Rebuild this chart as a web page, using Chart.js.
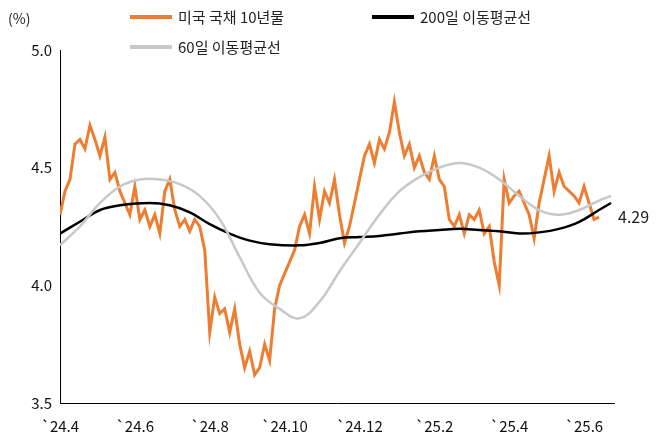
<!DOCTYPE html>
<html><head><meta charset="utf-8">
<script src="https://cdn.jsdelivr.net/npm/chart.js@4/dist/chart.umd.min.js"></script>
<style>
body{margin:0;background:#fff;font-family:"Noto Sans CJK KR","Noto Sans",sans-serif;}
#wrap{position:relative;width:662px;height:446px;}
.lg{position:absolute;font-size:15px;color:#222;display:flex;align-items:center;white-space:nowrap}
.lg i{display:inline-block;width:42px;height:4px;margin-right:6px}
#unit{position:absolute;left:8px;top:8px;font-size:14px;color:#222}
#last{position:absolute;left:618px;top:204px;font-size:16px;color:#222}
</style></head><body>
<div id="wrap">
<canvas id="c" width="662" height="446"></canvas>
<div id="unit">(%)</div>
<div class="lg" style="left:130px;top:6px"><i style="background:#ED7D31"></i>미국 국채 10년물</div>
<div class="lg" style="left:372px;top:6px"><i style="background:#000"></i>200일 이동평균선</div>
<div class="lg" style="left:130px;top:36px"><i style="background:#c8c8c8"></i>60일 이동평균선</div>
<div id="last">4.29</div>
</div>
<script>
const tickLabels=["`24.4","`24.6","`24.8","`24.10","`24.12","`25.2","`25.4","`25.6"];
const yieldStep=2/15; // months between readings
const yield10y=[4.30,4.40,4.45,4.60,4.62,4.58,4.68,4.62,4.55,4.63,4.45,4.48,4.40,4.35,4.30,4.42,4.28,4.32,4.25,4.30,4.22,4.40,4.45,4.32,4.25,4.28,4.23,4.28,4.25,4.15,3.80,3.95,3.88,3.90,3.80,3.90,3.75,3.65,3.72,3.62,3.65,3.75,3.68,3.90,4.00,4.05,4.10,4.15,4.25,4.30,4.22,4.42,4.28,4.40,4.35,4.45,4.30,4.18,4.25,4.35,4.45,4.55,4.60,4.52,4.62,4.58,4.65,4.78,4.65,4.55,4.60,4.50,4.55,4.48,4.45,4.55,4.45,4.42,4.28,4.25,4.30,4.22,4.30,4.28,4.32,4.22,4.25,4.10,4.00,4.45,4.35,4.38,4.40,4.35,4.30,4.20,4.35,4.45,4.55,4.40,4.48,4.42,4.40,4.38,4.35,4.42,4.35,4.28,4.29];
const maMonths=[0,0.53,1.07,1.6,2.4,2.93,3.47,4,4.53,5.07,5.6,6.4,6.93,7.47,8,8.53,9.07,9.6,10.13,10.67,11.2,11.73,12.27,12.8,13.33,13.87,14.4,14.72];
const ma200=[4.22,4.27,4.32,4.34,4.35,4.34,4.31,4.26,4.22,4.19,4.175,4.17,4.18,4.20,4.205,4.21,4.22,4.23,4.235,4.24,4.235,4.23,4.22,4.225,4.24,4.27,4.32,4.35];
const ma60Months=[0,0.53,1.07,1.6,2.13,2.67,3.2,3.73,4.27,4.8,5.33,5.87,6.4,6.93,7.47,8,8.53,9.07,9.6,10.13,10.67,11.2,11.73,12.27,12.8,13.33,13.87,14.4,14.72];
const ma60=[4.17,4.25,4.35,4.42,4.45,4.45,4.43,4.38,4.28,4.12,3.97,3.90,3.86,3.93,4.06,4.18,4.30,4.40,4.46,4.50,4.52,4.50,4.45,4.38,4.32,4.30,4.32,4.36,4.38];
const pts=(xs,ys)=>ys.map((y,i)=>({x:xs[i],y}));
new Chart(document.getElementById('c'),{type:'line',
data:{datasets:[
{data:pts(ma60Months,ma60),borderColor:'#c8c8c8',borderWidth:2.5,pointRadius:0,tension:0.4},
{data:pts(maMonths,ma200),borderColor:'#000',borderWidth:2.5,pointRadius:0,tension:0.4},
{data:yield10y.map((y,i)=>({x:i*yieldStep,y})),borderColor:'#ED7D31',borderWidth:3,pointRadius:0,tension:0}
]},
options:{responsive:false,animation:false,events:[],
layout:{padding:{top:50,right:48,left:0,bottom:12}},
plugins:{legend:{display:false},tooltip:{enabled:false}},
scales:{
x:{type:'linear',min:0,max:14.8,grid:{display:false,drawTicks:true,tickLength:5},border:{color:'#000'},
 afterBuildTicks:a=>{a.ticks=tickLabels.map((_,i)=>({value:i*2}));},
 afterFit:a=>{a.height=31;},
 ticks:{color:'#111',padding:9,font:{size:15,family:'"Noto Sans CJK KR"'},maxRotation:0,callback:(v)=>tickLabels[Math.round(v/2)]}},
y:{min:3.5,max:5.0,grid:{display:false,tickLength:5},border:{color:'#000'},
 afterFit:a=>{a.width=60;},
 ticks:{stepSize:0.5,color:'#111',font:{size:15,family:'"Noto Sans CJK KR"'},callback:v=>v.toFixed(1)}}
}}});
</script></body></html>
